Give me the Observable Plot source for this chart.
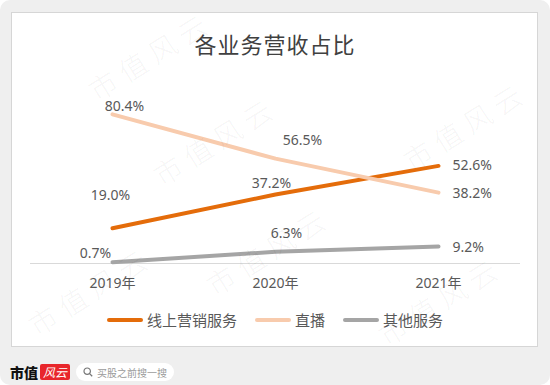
<!DOCTYPE html>
<html>
<head>
<meta charset="utf-8">
<script src="https://cdn.jsdelivr.net/npm/d3@7"></script>
<script src="https://cdn.jsdelivr.net/npm/@observablehq/plot@0.6"></script>
<style>
  html, body { margin: 0; padding: 0; background: #ffffff; }
  #page { position: relative; width: 550px; height: 385px; background: #efefef; border-radius: 10px; overflow: hidden; font-family: "Noto Sans", "Noto Sans CJK SC", sans-serif; }
  #panel { position: absolute; left: 11px; top: 12px; width: 525px; height: 333px; background: #ffffff; border: 1px solid #d6d6d6; }
  #title { position: absolute; left: 0; top: 27px; width: 550px; text-align: center; font-family: "Noto Sans CJK SC", sans-serif; font-size: 22px; color: #404040; letter-spacing: 1px; }
  #chart { position: absolute; left: 0; top: 0; }
  #legend { position: absolute; left: 0; top: 309px; width: 550px; display: flex; justify-content: center; align-items: center; font-family: "Noto Sans CJK SC", sans-serif; font-size: 15px; color: #595959; }
  .item { display: flex; align-items: center; margin: 0 9px; }
  .sw { width: 36px; height: 4px; border-radius: 2px; margin-right: 4px; }
  .wm { position: absolute; font-family: "Noto Sans CJK SC", serif; font-weight: 300; font-size: 28px; letter-spacing: 7px; color: rgba(0,0,0,0.05); transform: translate(-50%,-50%) rotate(-32deg); white-space: nowrap; pointer-events: none; }
  #footer { position: absolute; left: 10px; top: 362px; height: 20px; display: flex; align-items: center; }
  #brand { font-family: "Noto Sans CJK SC", sans-serif; font-weight: 900; font-size: 14px; color: #111; }
  #badge { margin-left: 2px; background: #e8262b; color: #fff; font-family: "Noto Sans CJK SC", sans-serif; font-style: italic; font-size: 12px; line-height: 16px; padding: 0 3px; border-radius: 2px; }
  #search { margin-left: 6px; background: #fff; border-radius: 9px; height: 18px; width: 98px; display: flex; align-items: center; font-family: "Noto Sans CJK SC", sans-serif; font-size: 10px; color: #9a9a9a; }
  #search svg { margin: 0 4px 0 7px; }
</style>
</head>
<body>
<div id="page">
  <div id="panel"></div>
  <div id="title">各业务营收占比</div>
  <div id="chart"></div>
  <div id="legend"></div>
  <div id="footer">
    <span id="brand">市值</span><span id="badge">风云</span>
    <span id="search"><svg width="10" height="10" viewBox="0 0 10 10"><circle cx="4.2" cy="4.2" r="3.2" fill="none" stroke="#777" stroke-width="1.2"/><line x1="6.6" y1="6.6" x2="9.2" y2="9.2" stroke="#777" stroke-width="1.3"/></svg>买股之前搜一搜</span>
  </div>
</div>
<script>
// ---- data ----
const years = ["2019年", "2020年", "2021年"];
const seriesNames = ["线上营销服务", "直播", "其他服务"];
const onlineMarketing = [19.0, 37.2, 52.6];
const liveStreaming = [80.4, 56.5, 38.2];
const otherServices = [0.7, 6.3, 9.2];
const watermarkText = "市值风云";

// ---- styles ----
const colors = ["#E46C0A", "#F8CBAD", "#A5A5A5"];
const seriesValues = [onlineMarketing, liveStreaming, otherServices];
// label offsets per series, per year: [dx, dy, anchor]
const labelOffsets = [
  [[-2, -33, "middle"], [-4, -11, "middle"], [14, 0, "start"]],
  [[12, -8, "middle"], [27, -18, "middle"], [14, 1, "start"]],
  [[-17, -9, "middle"], [11, -18, "middle"], [14, 1, "start"]]
];

const rows = seriesNames.flatMap((s, si) =>
  years.map((y, yi) => ({series: s, si, yi, year: y, value: seriesValues[si][yi]})));

const lineMarks = seriesNames.map((s, si) =>
  Plot.line(rows.filter(d => d.si === si), {
    x: "year", y: "value", stroke: colors[si], strokeWidth: 4,
    strokeLinecap: "round", strokeLinejoin: "round"
  }));

const labelMarks = rows.map(d => {
  const [dx, dy, anchor] = labelOffsets[d.si][d.yi];
  return Plot.text([d], {
    x: "year", y: "value", text: v => v.value.toFixed(1) + "%",
    dx, dy, textAnchor: anchor, fill: "#595959", fontSize: 14
  });
});

const chart = Plot.plot({
  width: 550,
  height: 300,
  marginLeft: 30,
  marginRight: 30,
  marginTop: 96,
  marginBottom: 37,
  style: {background: "transparent", fontFamily: "'Noto Sans', 'Noto Sans CJK SC', sans-serif", fontSize: "14px", color: "#595959", overflow: "visible"},
  x: {type: "point", domain: years, padding: 0.5, label: null},
  y: {domain: [0, 90], axis: null},
  marks: [
    Plot.axisX({tickSize: 0, tickPadding: 15, fontSize: 14, fill: "#595959", label: null}),
    Plot.ruleY([0], {stroke: "#d9d9d9", strokeWidth: 1}),
    ...lineMarks,
    ...labelMarks
  ]
});
document.getElementById("chart").appendChild(chart);

// legend
const legend = document.getElementById("legend");
seriesNames.forEach((s, i) => {
  const item = document.createElement("div");
  item.className = "item";
  const sw = document.createElement("span");
  sw.className = "sw";
  sw.style.background = colors[i];
  const t = document.createElement("span");
  t.textContent = s;
  item.appendChild(sw); item.appendChild(t);
  legend.appendChild(item);
});

// watermarks (kept inside the picture)
const page = document.getElementById("page");
[[150, 55], [215, 140], [268, 250], [465, 125], [440, 300], [90, 290]].forEach(([x, y]) => {
  const w = document.createElement("div");
  w.className = "wm";
  w.textContent = watermarkText;
  w.style.left = x + "px";
  w.style.top = y + "px";
  page.appendChild(w);
});
</script>
</body>
</html>
